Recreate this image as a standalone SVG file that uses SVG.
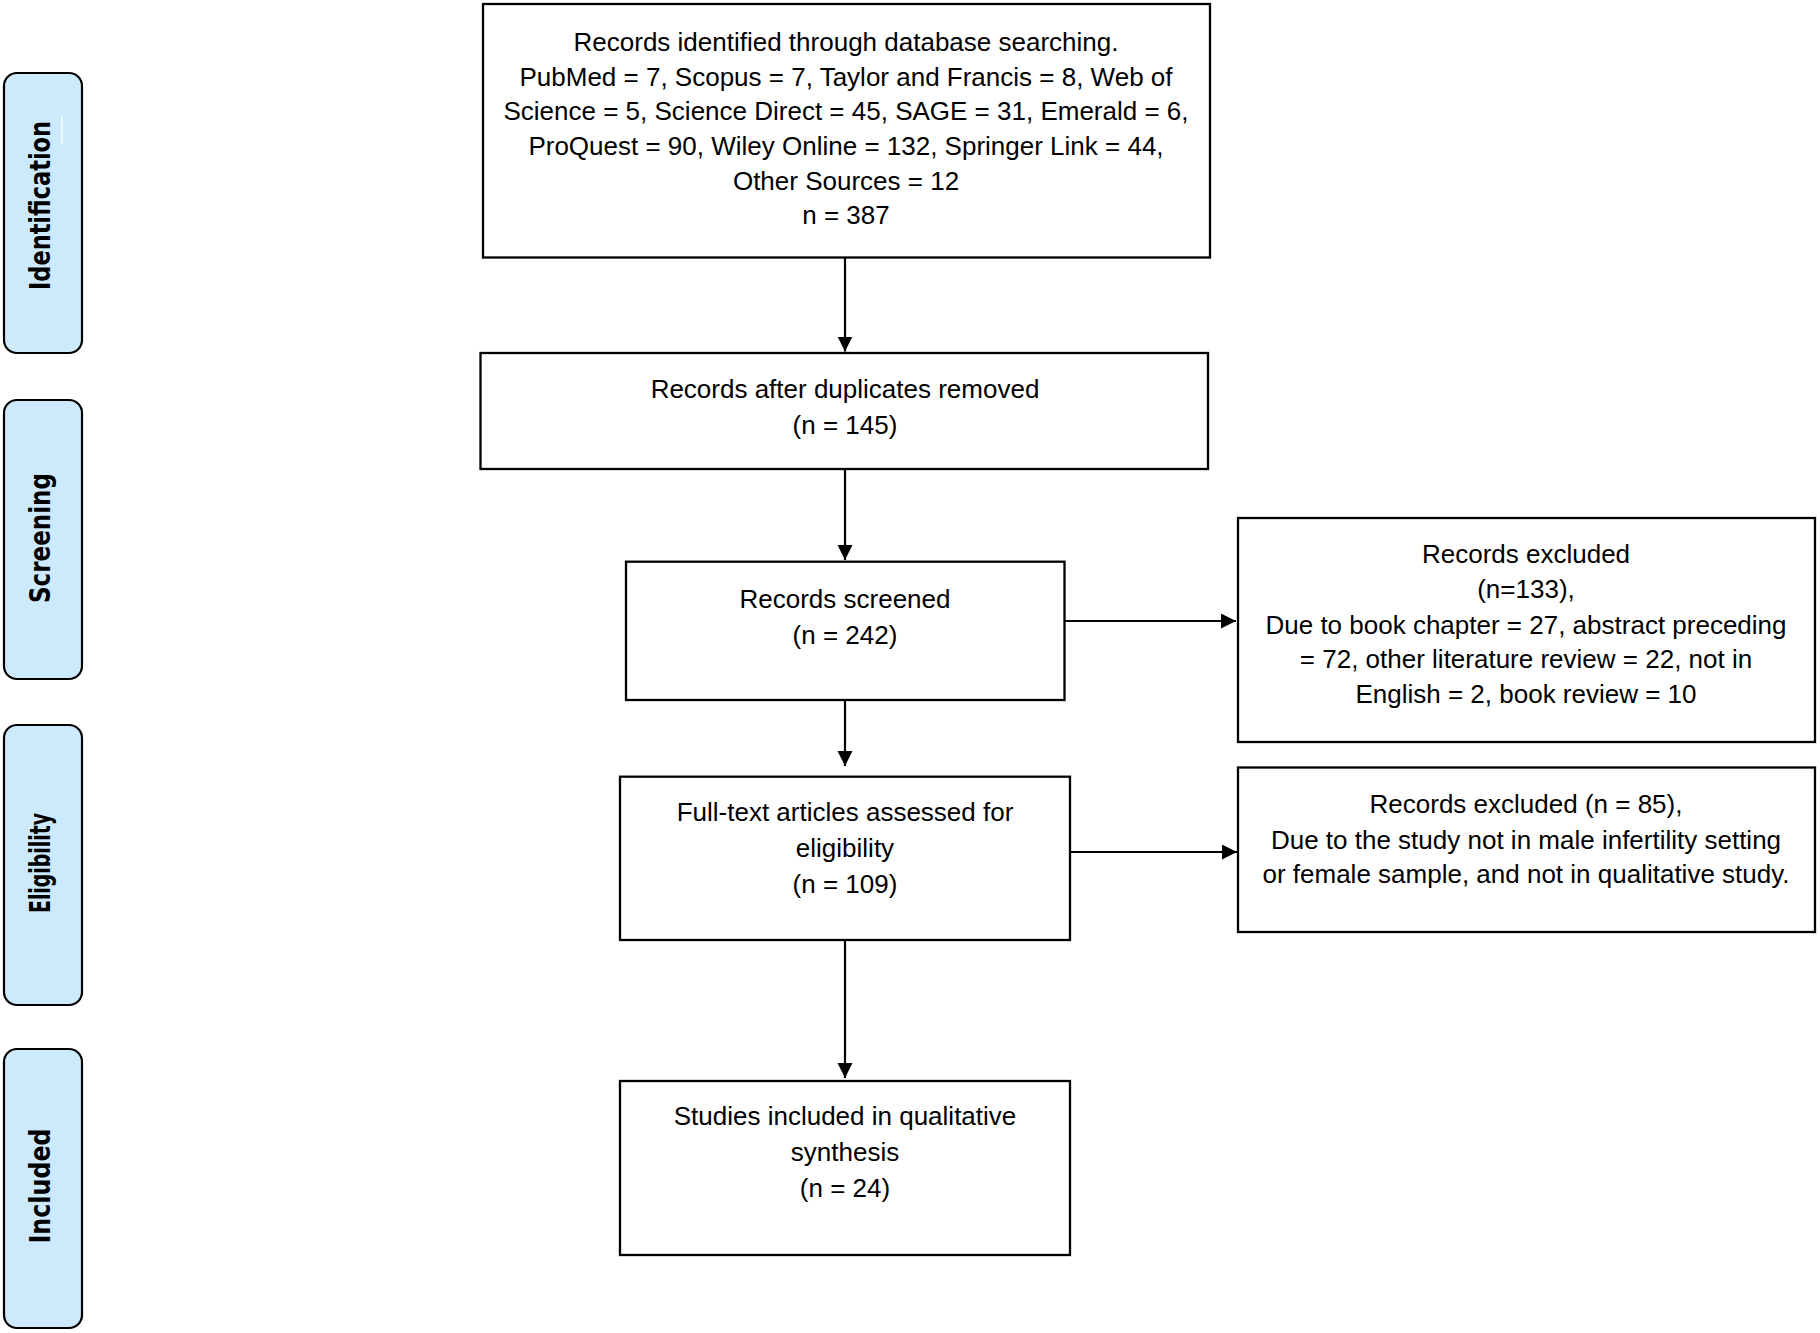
<svg xmlns="http://www.w3.org/2000/svg" width="1820" height="1333" viewBox="0 0 1820 1333">
<style>
.band{fill:#cdeafc;stroke:#000;stroke-width:2.2}
.box{fill:#fff;stroke:#000;stroke-width:2.3}
.lbl{font-family:"DejaVu Sans",Verdana,sans-serif;font-weight:bold;font-size:29px;fill:#000;text-anchor:middle}
.t{font-family:"Liberation Sans",Arial,sans-serif;font-size:26px;fill:#000;text-anchor:middle}
.con{stroke:#000;stroke-width:2.2;fill:none;marker-end:url(#ah)}
</style>
<defs>
<marker id="ah" markerUnits="userSpaceOnUse" markerWidth="16" markerHeight="16" refX="15" refY="7.5" orient="auto">
<path d="M0,0 L15,7.5 L0,15 Z" fill="#000"/>
</marker>
</defs>
<rect width="1820" height="1333" fill="#fff"/>
<g id="band-identification">
<rect class="band" x="4" y="73" width="78" height="280" rx="13"/>
<line x1="62" y1="117" x2="62" y2="145" stroke="#fff" stroke-width="1.5"/>
<text class="lbl" transform="translate(50,205.5) rotate(-90)" textLength="169" lengthAdjust="spacingAndGlyphs">Identification</text>
</g>
<g id="band-screening">
<rect class="band" x="4" y="400" width="78" height="279" rx="13"/>
<text class="lbl" transform="translate(50,538) rotate(-90)" textLength="130" lengthAdjust="spacingAndGlyphs">Screening</text>
</g>
<g id="band-eligibility">
<rect class="band" x="4" y="725" width="78" height="280" rx="13"/>
<text class="lbl" transform="translate(50,863) rotate(-90)" textLength="100" lengthAdjust="spacingAndGlyphs">Eligibility</text>
</g>
<g id="band-included">
<rect class="band" x="4" y="1049" width="78" height="279" rx="13"/>
<text class="lbl" transform="translate(50,1186) rotate(-90)" textLength="115" lengthAdjust="spacingAndGlyphs">Included</text>
</g>
<g id="connectors">
<line class="con" x1="845" y1="257.5" x2="845" y2="351.5"/>
<line class="con" x1="845" y1="469" x2="845" y2="560"/>
<line class="con" x1="845" y1="700" x2="845" y2="766"/>
<line class="con" x1="845" y1="940" x2="845" y2="1078"/>
<line class="con" x1="1064.5" y1="621" x2="1236" y2="621"/>
<line class="con" x1="1070" y1="852" x2="1237" y2="852"/>
</g>
<g id="node-identified">
<rect class="box" x="483" y="4" width="727" height="253.5"/>
<text class="t" x="846" y="51">Records identified through database searching.</text>
<text class="t" x="846" y="85.5">PubMed = 7, Scopus = 7, Taylor and Francis = 8, Web of</text>
<text class="t" x="846" y="120">Science = 5, Science Direct = 45, SAGE = 31, Emerald = 6,</text>
<text class="t" x="846" y="154.5">ProQuest = 90, Wiley Online = 132, Springer Link = 44,</text>
<text class="t" x="846" y="189.5">Other Sources = 12</text>
<text class="t" x="846" y="224">n = 387</text>
</g>
<g id="node-duplicates">
<rect class="box" x="480.5" y="353" width="727.5" height="116"/>
<text class="t" x="845" y="398">Records after duplicates removed</text>
<text class="t" x="845" y="434">(n = 145)</text>
</g>
<g id="node-screened">
<rect class="box" x="626" y="561.7" width="438.5" height="138.3"/>
<text class="t" x="845" y="607.5">Records screened</text>
<text class="t" x="845" y="643.5">(n = 242)</text>
</g>
<g id="node-excluded1">
<rect class="box" x="1238" y="518" width="577" height="224"/>
<text class="t" x="1526" y="563">Records excluded</text>
<text class="t" x="1526" y="598">(n=133),</text>
<text class="t" x="1526" y="633.5">Due to book chapter = 27, abstract preceding</text>
<text class="t" x="1526" y="668">= 72, other literature review = 22, not in</text>
<text class="t" x="1526" y="702.5">English = 2, book review = 10</text>
</g>
<g id="node-fulltext">
<rect class="box" x="620" y="776.7" width="450" height="163.3"/>
<text class="t" x="845" y="820.5">Full-text articles assessed for</text>
<text class="t" x="845" y="856.5">eligibility</text>
<text class="t" x="845" y="892.5">(n = 109)</text>
</g>
<g id="node-excluded2">
<rect class="box" x="1238" y="767.5" width="577" height="164.5"/>
<text class="t" x="1526" y="812.5">Records excluded (n = 85),</text>
<text class="t" x="1526" y="848.5">Due to the study not in male infertility setting</text>
<text class="t" x="1526" y="883">or female sample, and not in qualitative study.</text>
</g>
<g id="node-included">
<rect class="box" x="620" y="1081" width="450" height="174"/>
<text class="t" x="845" y="1124.5">Studies included in qualitative</text>
<text class="t" x="845" y="1160.5">synthesis</text>
<text class="t" x="845" y="1196.5">(n = 24)</text>
</g>
</svg>
